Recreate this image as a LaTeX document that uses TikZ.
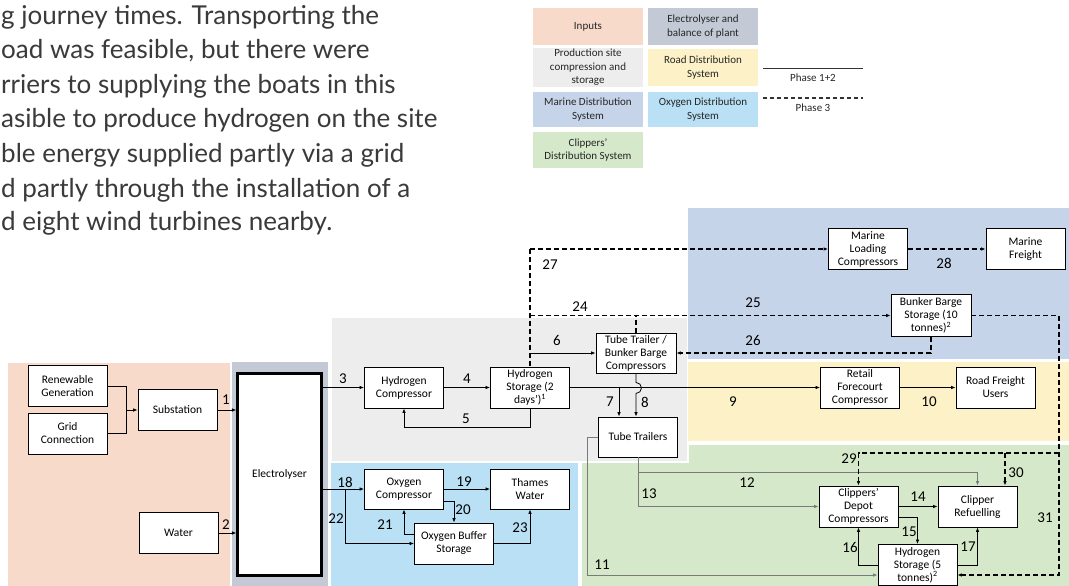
\documentclass[tikz,border=0pt]{standalone}
\usepackage{fontspec}
\setmainfont{Carlito}
\newfontfamily\parafont{Lato}
\usetikzlibrary{arrows.meta,calc}

\definecolor{inputsC}{HTML}{F8DACA}
\definecolor{bopC}{HTML}{C3CAD6}
\definecolor{prodC}{HTML}{EDEDED}
\definecolor{roadC}{HTML}{FDF1C8}
\definecolor{marineC}{HTML}{C6D4EA}
\definecolor{oxyC}{HTML}{B9E0F4}
\definecolor{clipC}{HTML}{D6E8CA}
\definecolor{paraC}{HTML}{3A3A3A}
\definecolor{feedC}{HTML}{7A7A7A}

\begin{document}
\begin{tikzpicture}[x=1pt,y=-1pt,
  para/.style={font=\parafont\fontsize{26}{34}\selectfont, text=paraC, inner sep=0pt, anchor=base west},
  legbox/.style={minimum width=110pt, minimum height=37pt, inner sep=1pt, align=center,
    font=\fontsize{11}{13.5}\selectfont, text=black!85},
  legtxt/.style={font=\fontsize{11}{13.5}\selectfont, text=black!85, inner sep=0pt},
  box/.style={draw=black, line width=0.9pt, fill=white, minimum width=79pt, minimum height=41pt,
    align=center, inner sep=1pt, font=\fontsize{11.5}{13}\selectfont},
  num/.style={font=\fontsize{15}{15}\selectfont, inner sep=0pt},
  arr/.style={line width=0.8pt, -{Latex[length=4.5pt,width=3.6pt]}},
  ln/.style={line width=0.8pt},
  garr/.style={arr, draw=feedC},
  dsh/.style={line width=1.1pt, dash pattern=on 5pt off 3pt},
  darr/.style={dsh, -{Latex[length=4.5pt,width=3.6pt]}}
]
\useasboundingbox (0,0) rectangle (1069,586);
\fill[white] (0,0) rectangle (1069,586);

% running text beside the figure
\node[para] (p1) at (1,25)  {g journey times. Transporting the};
\node[para] (p2) at (1,59)  {oad was feasible, but there were};
\node[para] (p3) at (1,93)  {rriers to supplying the boats in this};
\node[para] (p4) at (1,128) {asible to produce hydrogen on the site};
\node[para] (p5) at (1,162) {ble energy supplied partly via a grid};
\node[para] (p6) at (1,197) {d partly through the installation of a};
\node[para] (p7) at (1,230) {d eight wind turbines nearby.};

% key
\node[legbox, fill=inputsC] (lg1) at (588,26.5) {Inputs};
\node[legbox, fill=bopC]    (lg2) at (703,26.5) {Electrolyser and\\balance of plant};
\node[legbox, fill=prodC]   (lg3) at (588,67.5) {Production site\\compression and\\storage};
\node[legbox, fill=roadC]   (lg4) at (703,67.5) {Road Distribution\\System};
\node[legbox, fill=marineC, minimum height=35pt] (lg5) at (588,109.5) {Marine Distribution\\System};
\node[legbox, fill=oxyC, minimum height=35pt]    (lg6) at (703,109.5) {Oxygen Distribution\\System};
\node[legbox, fill=clipC, minimum height=36pt]   (lg7) at (588,150) {Clippers’\\Distribution System};
\coordinate (ls1) at (763,69);  \coordinate (ls2) at (863,69);
\coordinate (ld1) at (763,98);  \coordinate (ld2) at (863,98);
\draw[line width=1pt, black!80] (ls1) -- (ls2);
\draw[line width=1.5pt, black!80, dash pattern=on 4pt off 3pt] (ld1) -- (ld2);
\node[legtxt] (lt1) at (813,77.5) {Phase 1+2};
\node[legtxt] (lt2) at (813,108) {Phase 3};

% system areas
\fill[clipC]   (582,445) rectangle (1069,586);
\fill[prodC, draw=white, line width=2pt] (331,317) rectangle (688,462);
\fill[inputsC] (8,363) rectangle (230,586);
\fill[bopC]    (232,362) rectangle (328,586);
\fill[oxyC]    (331,463) rectangle (578,586);
\fill[marineC] (688,208) rectangle (1069,359);
\fill[roadC]   (688,361.5) rectangle (1069,441);

% components
\node[box] (ren)   at (67.5,386)   {Renewable\\Generation};
\node[box] (grid)  at (67.5,433.5) {Grid\\Connection};
\node[box] (sub)   at (177.5,410)  {Substation};
\node[box] (water) at (178.5,533)  {Water};
\node[box, line width=2.2pt, minimum width=84pt, minimum height=202pt] (elec) at (279.5,474.5) {Electrolyser};
\node[box] (hcomp)  at (404,387.5) {Hydrogen\\Compressor};
\node[box] (hstore) at (530,387.5) {Hydrogen\\Storage (2\\days’)\textsuperscript{1}};
\node[box, minimum width=80pt, minimum height=40pt] (ttbb) at (636,353) {Tube Trailer /\\Bunker Barge\\Compressors};
\node[box, minimum height=40pt] (tt) at (638,437) {Tube Trailers};
\node[box, minimum height=40pt] (ocomp)  at (404,489)   {Oxygen\\Compressor};
\node[box, minimum height=40pt] (thames) at (530,489)   {Thames\\Water};
\node[box] (obuf)   at (454,543.5) {Oxygen Buffer\\Storage};
\node[box] (mload)  at (868,249)   {Marine\\Loading\\Compressors};
\node[box] (mfr)    at (1025.5,249) {Marine\\Freight};
\node[box, minimum width=80pt, minimum height=42pt] (bbs) at (931,315.5) {Bunker Barge\\Storage (10\\tonnes)\textsuperscript{2}};
\node[box] (retail) at (860,387.5) {Retail\\Forecourt\\Compressor};
\node[box] (rfu)    at (995.5,387.5) {Road Freight\\Users};
\node[box] (cdc)    at (858.5,506.5) {Clippers’\\Depot\\Compressors};
\node[box] (cref)   at (977.5,506.5) {Clipper\\Refuelling};
\node[box] (hs5)    at (917.5,565) {Hydrogen\\Storage (5\\tonnes)\textsuperscript{2}};

% inputs
\coordinate (jin) at (126,410);
\draw[ln] (ren.east) -| (jin);
\draw[ln] (grid.east) -| (jin);
\draw[arr] (jin) -- (sub.west);
\draw[arr] (sub.east) -- (sub.east -| elec.west);
\draw[arr] (water.east) -- (water.east -| elec.west);

% hydrogen production
\draw[arr] (elec.east |- hcomp.west) -- (hcomp.west);
\draw[arr] (hcomp.east) -- (hstore.west);
\draw[arr] (hstore.south) -- ++(0,18.5) -| (hcomp.south);
\draw[arr] (hstore.north |- ttbb.west) -- (ttbb.west);
\draw[arr] (hstore.east) -- (retail.west);
\coordinate (b7) at (619,387.5);
\draw[arr] (b7) -- (b7 |- tt.north);
\draw[arr] (ttbb.south) -- ++(0,9) arc[start angle=-90, end angle=90, radius=5.5] -- (ttbb.south |- tt.north);
\draw[arr] (retail.east) -- (rfu.west);

% oxygen
\draw[arr] (elec.east |- ocomp.west) -- (ocomp.west);
\coordinate (j18) at (345,489);
\draw[arr] (j18) |- (obuf.west);
\draw[arr] (ocomp.east) -- (thames.west);
\draw[arr] ($(ocomp.east)+(0,12)$) -| (obuf.north);
\draw[arr] ($(obuf.west)+(0,-9.5)$) -| (ocomp.south);
\draw[arr] (obuf.east) -| (thames.south);

% clippers' supply
\draw[garr] (tt.west) -- ++(-11,0) |- ($(hs5.west)+(0,10)$);
\draw[garr] (tt.south) |- (cdc.west);
\draw[garr] ($(tt.south)+(0,15)$) -| (cref.north);
\draw[arr] (cdc.east) -- (cref.west);
\draw[arr] ($(cdc.east)+(0,10.5)$) -| (hs5.north);
\draw[arr] (hs5.west) -| (cdc.south);
\draw[arr] (hs5.east) -| (cref.south);

% phase 3 routes
\coordinate (t27) at (hstore.north |- mload.west);
\draw[dsh] (t27) -- (hstore.north);
\draw[darr] (t27) -- (mload.west);
\draw[darr] (hstore.north |- bbs.west) -- (bbs.west);
\draw[dsh] (ttbb.north) -- (ttbb.north |- bbs.west);
\draw[darr] (mload.east) -- (mfr.west);
\draw[darr] (bbs.south) |- (ttbb.east);
\coordinate (r31) at (1059,315.5);
\draw[darr] (bbs.east) -- (r31) |- ($(hs5.east)+(0,10)$);
\coordinate (k29) at (1059,453);
\draw[darr] (k29) -| (cdc.north);
\coordinate (k30) at (1005,453);
\draw[darr] (k30) -- (k30 |- cref.north);

% stream numbers
\node[num] (n1)  at (226,400) {1};
\node[num] (n2)  at (226,525) {2};
\node[num] (n3)  at (343,379) {3};
\node[num] (n4)  at (467,379) {4};
\node[num] (n5)  at (466,419) {5};
\node[num] (n6)  at (557,340) {6};
\node[num] (n7)  at (610,402) {7};
\node[num] (n8)  at (645,402) {8};
\node[num] (n9)  at (733,402) {9};
\node[num] (n10) at (929,402) {10};
\node[num] (n11) at (602,565) {11};
\node[num] (n12) at (747,483) {12};
\node[num] (n13) at (649,494) {13};
\node[num] (n14) at (918,497) {14};
\node[num] (n15) at (909,532) {15};
\node[num] (n16) at (850,547) {16};
\node[num] (n17) at (968,547) {17};
\node[num] (n18) at (345,482) {18};
\node[num] (n19) at (464,482) {19};
\node[num] (n20) at (463,510) {20};
\node[num] (n21) at (385,525) {21};
\node[num] (n22) at (336,519) {22};
\node[num] (n23) at (520,528) {23};
\node[num] (n24) at (580,307) {24};
\node[num] (n25) at (753,303) {25};
\node[num] (n26) at (753,340) {26};
\node[num] (n27) at (550,265) {27};
\node[num] (n28) at (944,263) {28};
\node[num] (n29) at (849,459) {29};
\node[num] (n30) at (1016,473) {30};
\node[num] (n31) at (1045,518) {31};
\end{tikzpicture}
\end{document}
